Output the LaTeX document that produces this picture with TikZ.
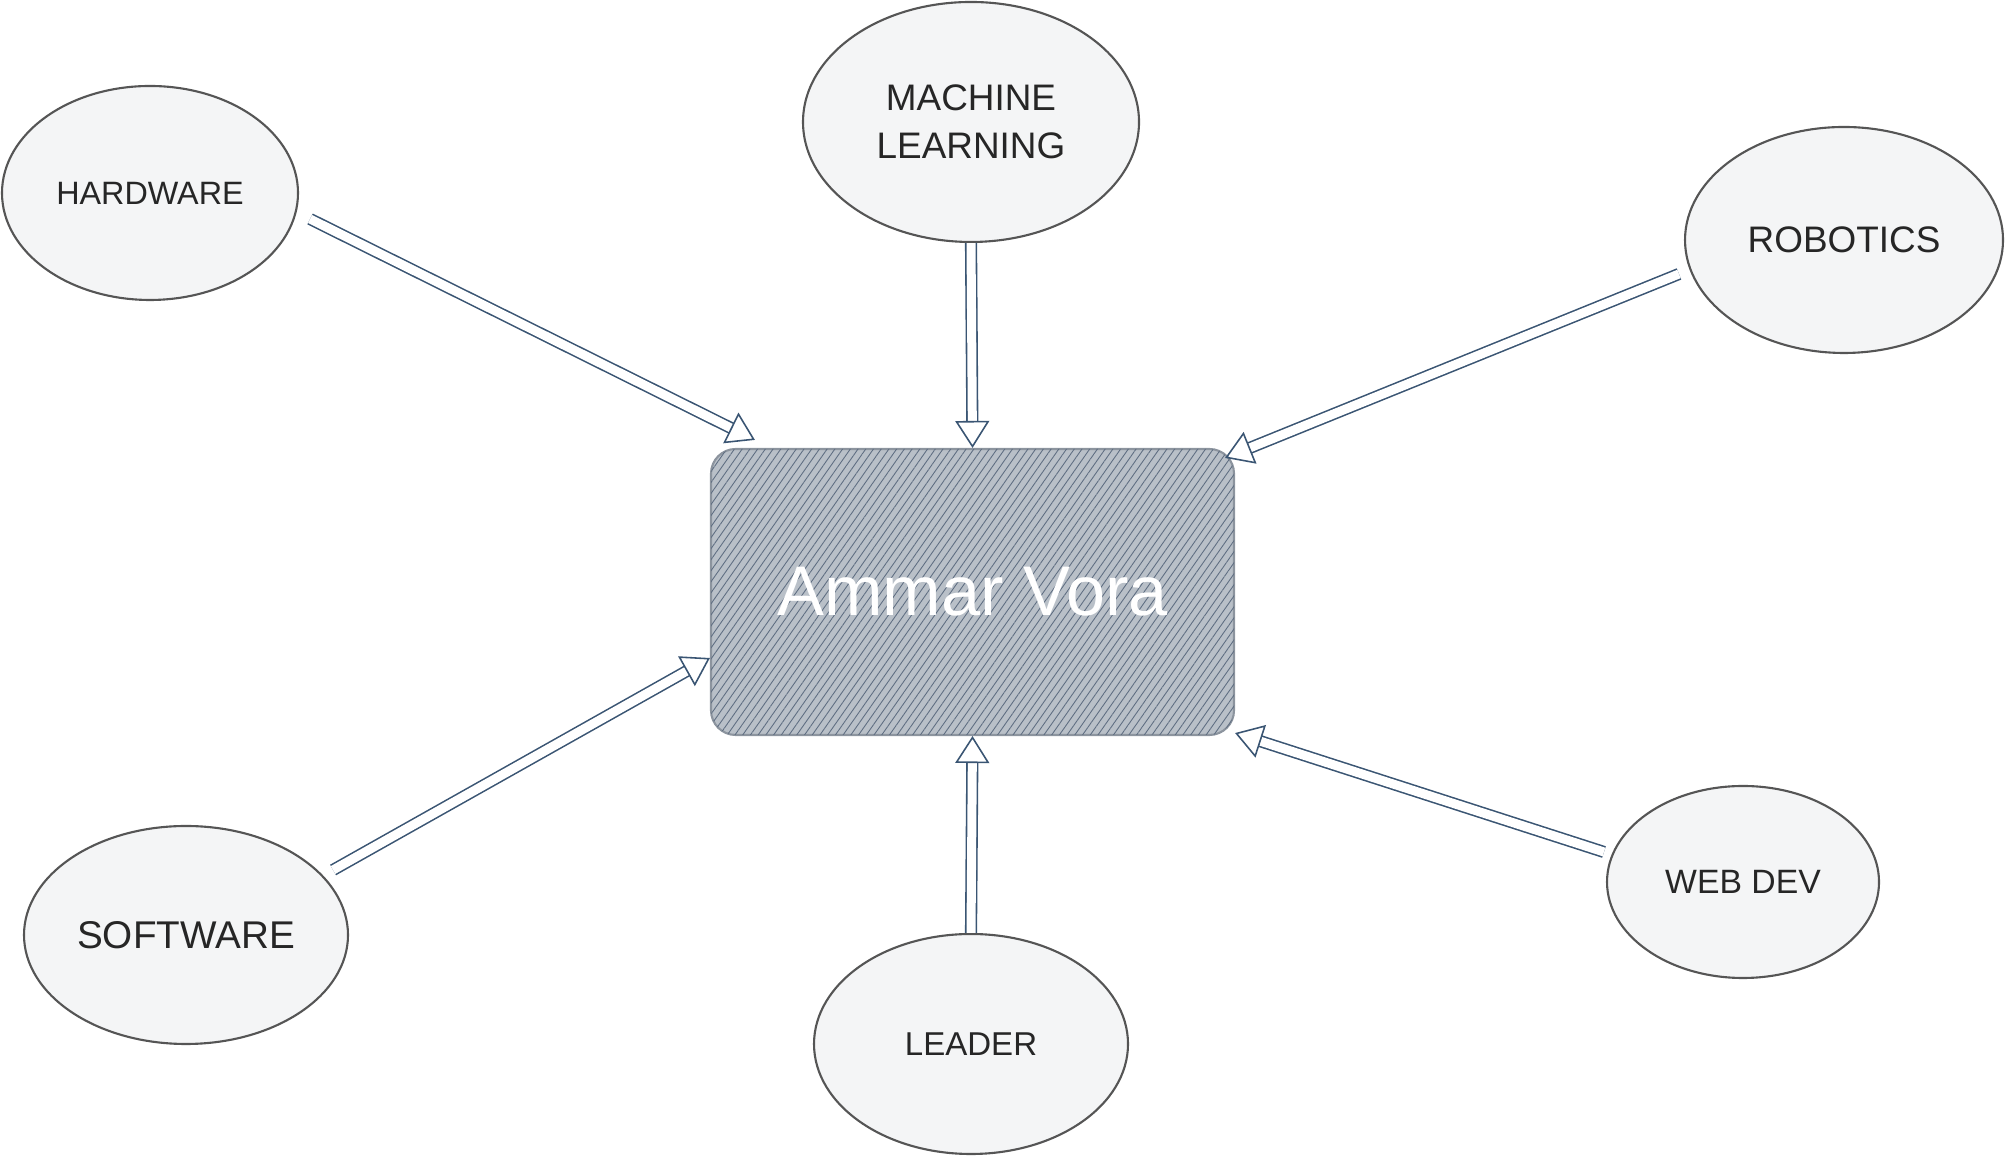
\documentclass[tikz,border=0pt]{standalone}
\usepackage{fontspec}
\setmainfont{Liberation Sans}
\usetikzlibrary{arrows.meta,shapes.geometric,patterns.meta}

\definecolor{skilledge}{HTML}{555555}
\definecolor{skillfill}{HTML}{F4F5F6}
\definecolor{corefill}{HTML}{B9C0C8}
\definecolor{corehatch}{HTML}{5F6E82}
\definecolor{coreedge}{HTML}{8C949E}
\definecolor{arrowblue}{HTML}{3A5573}

\begin{document}
\begin{tikzpicture}[
  skill/.style={
    ellipse,
    draw=skilledge,
    fill=skillfill,
    line width=0.6pt,
    inner sep=0pt,
    align=center,
    text=black!85
  },
  core/.style={
    draw=coreedge,
    line width=0.6pt,
    rounded corners=7pt,
    fill=corefill,
    postaction={pattern={Lines[angle=55,distance=1.8pt,line width=0.25pt]},pattern color=corehatch},
    minimum width=52.3mm,
    minimum height=28.6mm,
    text=white,
    font=\fontsize{20}{24}\selectfont
  },
  arrow/.style={
    draw=arrowblue,
    double=white,
    double distance=0.9mm,
    line width=0.45pt,
    -{Triangle[open,length=2.7mm,width=3.4mm]}
  }
]
\useasboundingbox (0,0) rectangle (20.16,11.67);

\node[core] (me) at (9.725, 5.75) {Ammar Vora};

\node[skill, minimum width=29.6mm, minimum height=21.4mm, font=\fontsize{9.2}{11}\selectfont] (hw) at (1.50, 9.74) {HARDWARE};
\node[skill, minimum width=33.6mm, minimum height=24.0mm, font=\fontsize{10.5}{13.6}\selectfont] (ml) at (9.71, 10.45) {MACHINE\\LEARNING};
\node[skill, minimum width=31.8mm, minimum height=22.6mm, font=\fontsize{10.5}{12}\selectfont] (rob) at (18.44, 9.27) {ROBOTICS};
\node[skill, minimum width=32.4mm, minimum height=21.8mm, font=\fontsize{11}{13}\selectfont] (sw) at (1.86, 2.32) {SOFTWARE};
\node[skill, minimum width=31.4mm, minimum height=22.0mm, font=\fontsize{9.4}{11}\selectfont] (lead) at (9.71, 1.23) {LEADER};
\node[skill, minimum width=27.2mm, minimum height=19.2mm, font=\fontsize{9.6}{11}\selectfont] (web) at (17.43, 2.85) {WEB DEV};

\draw[arrow] ([shift={(0.11,-0.26)}]hw.east) -- ([shift={(0.45,0.08)}]me.north west);
\draw[arrow] (ml.south) -- (me.north);
\draw[arrow] ([shift={(-0.05,-0.34)}]rob.west) -- ([shift={(-0.10,-0.10)}]me.north east);
\draw[arrow] ([shift={(-0.16,0.65)}]sw.east) -- ([yshift=-6.6mm]me.west);
\draw[arrow] (lead.north) -- (me.south);
\draw[arrow] ([shift={(-0.02,0.30)}]web.west) -- ([yshift=0.3mm]me.south east);

\end{tikzpicture}
\end{document}
